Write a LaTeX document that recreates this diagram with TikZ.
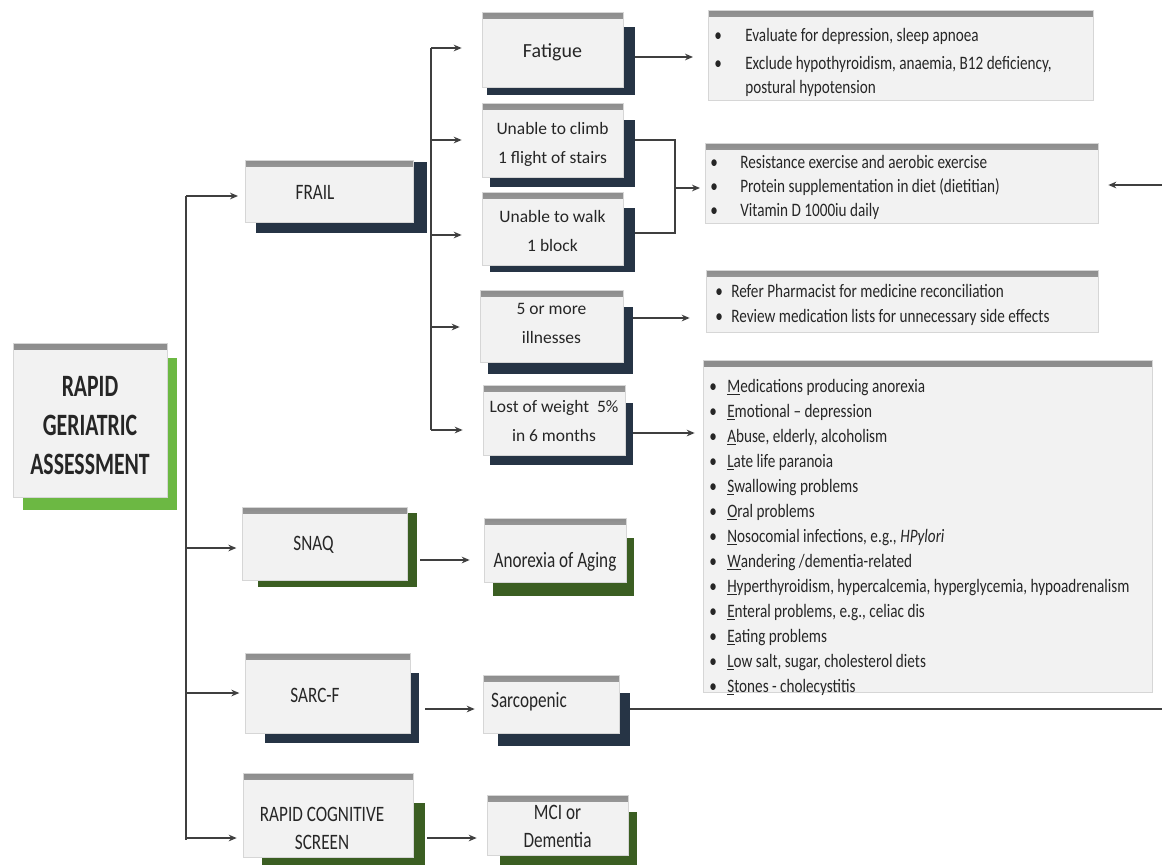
\documentclass[tikz,border=0pt]{standalone}
\usepackage{fontspec}
\setmainfont{Carlito}
\newfontfamily\boxfont{Carlito}[FakeStretch=0.78]
\newfontfamily\listfont{Carlito}[FakeStretch=0.8]
\newfontfamily\titlefont{Carlito}[FakeStretch=0.7]
\usetikzlibrary{arrows.meta,calc,fit,backgrounds}

\definecolor{panel}{HTML}{F2F2F2}
\definecolor{navy}{HTML}{263445}
\definecolor{leaf}{HTML}{3B5E22}
\definecolor{lime}{HTML}{6CB843}
\definecolor{ink}{HTML}{262626}
\definecolor{wire}{HTML}{3F3F3F}

% underlined initial letter of the mnemonic
\newcommand{\fl}[1]{\underline{#1}}

% solid offset block behind a panel: node, colour, dx/dy of north west, dx/dy of south east (px)
\newcommand{\backshadow}[6]{%
  \begin{pgfonlayer}{background}
    \fill[#2] ($(#1.north west)+(#3,#4)$) rectangle ($(#1.south east)+(#5,#6)$);
  \end{pgfonlayer}}

\begin{document}
\begin{tikzpicture}[x=0.75pt,y=-0.75pt,
  panel/.style={draw=black!16, line width=0.5pt, fill=panel, inner sep=0pt,
    path picture={\shade[top color=black!45, bottom color=panel]
      (path picture bounding box.north west) rectangle ([yshift=-5pt]path picture bounding box.north east);}},
  txtA/.style={font=\fontsize{13.1}{21.75}\selectfont, text=ink, align=center},
  txtB/.style={font=\boxfont\fontsize{16.5}{20.5}\selectfont, text=ink, align=center},
  titletext/.style={font=\titlefont\bfseries\fontsize{23.3}{29.25}\selectfont, text=ink, align=center},
  listtext/.style={font=\listfont\fontsize{14.25}{18.75}\selectfont, text=ink, inner sep=0pt, anchor=base west},
  wire/.style={draw=wire, line width=1.1pt},
  arr/.style={wire, -{Stealth[length=6pt,width=5pt]}}
]
\useasboundingbox (0,0) rectangle (1162,864);

% ---------- root ----------
\node[panel, fit={(13,343) (167,497)},
  label={[titletext, yshift=-4.5pt]center:{RAPID\\GERIATRIC\\ASSESSMENT}}] (rga) {};
\backshadow{rga}{lime}{10}{15}{10}{13}

% ---------- screening tools ----------
\node[panel, fit={(245,160) (413,222)},
  label={[txtB, xshift=-10.5pt, yshift=-1pt]center:{FRAIL}}] (frail) {};
\backshadow{frail}{navy}{11}{2}{14}{11}

\node[panel, fit={(242,507) (407,580)},
  label={[txtB, xshift=-8.25pt, yshift=-1pt]center:{SNAQ}}] (snaq) {};
\backshadow{snaq}{leaf}{16}{6}{10}{7}

\node[panel, fit={(245,653) (410,733)},
  label={[txtB, xshift=-9.4pt, yshift=-1.5pt]center:{SARC-F}}] (sarcf) {};
\backshadow{sarcf}{navy}{20}{20}{9}{10}

\node[panel, fit={(243,773) (413,857)},
  label={[txtB, xshift=-4.5pt, yshift=-10pt]center:{RAPID COGNITIVE\\SCREEN}}] (rcs) {};
\backshadow{rcs}{leaf}{19}{30}{12}{10}

% ---------- FRAIL items ----------
\node[panel, fit={(482,12) (623,87)},
  label={[txtA, font=\fontsize{15}{18}\selectfont, yshift=-2pt]center:{Fatigue}}] (fatigue) {};
\backshadow{fatigue}{navy}{5}{15}{12}{8}

\node[panel, fit={(482,103) (623,177)},
  label={[txtA, yshift=-3.4pt]center:{Unable to climb\\1 flight of stairs}}] (climb) {};
\backshadow{climb}{navy}{8}{17}{12}{10}

\node[panel, fit={(482,192) (623,265)},
  label={[txtA, yshift=-2.2pt]center:{Unable to walk\\1 block}}] (walk) {};
\backshadow{walk}{navy}{8}{16}{12}{7}

\node[panel, fit={(480,290) (623,362)},
  label={[txtA, yshift=2pt]center:{5 or more\\illnesses}}] (ill) {};
\backshadow{ill}{navy}{8}{17}{10}{12}

\node[panel, fit={(483,385) (625,455)},
  label={[txtA, yshift=-1pt]center:{Lost of weight~ 5\%\\in 6 months}}] (weight) {};
\backshadow{weight}{navy}{7}{18}{8}{10}

% ---------- outcomes ----------
\node[panel, fit={(484,518) (626,582)},
  label={[txtB, yshift=-9pt]center:{Anorexia of Aging}}] (anorexia) {};
\backshadow{anorexia}{leaf}{9}{20}{8}{14}

\node[panel, fit={(483,675) (619,733)},
  label={[txtB, xshift=-16.5pt, yshift=1.5pt]center:{Sarcopenic}}] (sarco) {};
\backshadow{sarco}{navy}{15}{18}{11}{13}

\node[panel, fit={(487,795) (628,855)},
  label={[txtB, yshift=-1pt]center:{MCI or\\Dementia}}] (mci) {};
\backshadow{mci}{leaf}{13}{17}{9}{12}

% ---------- management lists ----------
\node[panel, fit={(708,10) (1093,100)}] (fatlist) {};
\node[listtext, font=\listfont\fontsize{14.25}{18}\selectfont] (fatlisttxt) at (714,41) {%
  \begin{tabular}[t]{@{}p{23.25pt}@{}l@{}}
  • & Evaluate for depression, sleep apnoea\\[3pt]
  • & Exclude hypothyroidism, anaemia, B12 deficiency,\\
    & postural hypotension
  \end{tabular}};

\node[panel, fit={(705,143) (1098,223)}] (muscle) {};
\node[listtext, font=\listfont\fontsize{14.25}{18}\selectfont] (muscletxt) at (710,168) {%
  \begin{tabular}[t]{@{}p{22.5pt}@{}l@{}}
  • & Resistance exercise and aerobic exercise\\
  • & Protein supplementation in diet (dietitian)\\
  • & Vitamin D 1000iu daily
  \end{tabular}};

\node[panel, fit={(706,270) (1098,332)}] (meds) {};
\node[listtext] (medstxt) at (715,297) {%
  \begin{tabular}[t]{@{}p{12pt}@{}l@{}}
  • & Refer Pharmacist for medicine reconciliation\\
  • & Review medication lists for unnecessary side effects
  \end{tabular}};

\node[panel, fit={(703,360) (1152,692)}] (meals) {};
\node[listtext] (mealstxt) at (709,392) {%
  \begin{tabular}[t]{@{}p{13.5pt}@{}l@{}}
  • & \fl{M}edications producing anorexia\\
  • & \fl{E}motional – depression\\
  • & \fl{A}buse, elderly, alcoholism\\
  • & \fl{L}ate life paranoia\\
  • & \fl{S}wallowing problems\\
  • & \fl{O}ral problems\\
  • & \fl{N}osocomial infections, e.g., \textit{HPylori}\\
  • & \fl{W}andering /dementia-related\\
  • & \fl{H}yperthyroidism, hypercalcemia, hyperglycemia, hypoadrenalism\\
  • & \fl{E}nteral problems, e.g., celiac dis\\
  • & \fl{E}ating problems\\
  • & \fl{L}ow salt, sugar, cholesterol diets\\
  • & \fl{S}tones - cholecystitis
  \end{tabular}};

% ---------- connectors: main trunk ----------
\coordinate (trunkTop) at (186,196);
\coordinate (trunkBot) at (186,840);
\coordinate (tSnaq) at (186,548);
\coordinate (tSarc) at (186,693);
\coordinate (tRcs) at (186,838);
\draw[wire] (trunkTop) -- (trunkBot);
\draw[arr, shorten >=5pt] (trunkTop) -- (trunkTop -| frail.west);
\draw[arr, shorten >=4pt] (tSnaq) -- (tSnaq -| snaq.west);
\draw[arr, shorten >=4pt] (tSarc) -- (tSarc -| sarcf.west);
\draw[arr, shorten >=4.5pt] (tRcs) -- (tRcs -| rcs.west);

% ---------- connectors: FRAIL branch ----------
\coordinate (bFat) at (431,48);
\coordinate (bClimb) at (431,140);
\coordinate (bWalk) at (431,235);
\coordinate (bIll) at (431,327);
\coordinate (bWeight) at (431,430);
\draw[wire] (bFat) -- (bWeight);
\draw[arr, shorten >=15pt] (bFat) -- (bFat -| fatigue.west);
\draw[arr, shorten >=15pt] (bClimb) -- (bClimb -| climb.west);
\draw[arr, shorten >=15pt] (bWalk) -- (bWalk -| walk.west);
\draw[arr, shorten >=15pt] (bIll) -- (bIll -| ill.west);
\draw[arr, shorten >=15pt] (bWeight) -- (bWeight -| weight.west);

% ---------- connectors: items to management ----------
\coordinate (fOut) at (635,57);
\draw[arr, shorten >=11pt] (fOut) -- (fOut -| fatlist.west);

\coordinate (cOut) at (635,140);
\coordinate (wOut) at (635,233);
\coordinate (join) at (675,188);
\draw[wire] (cOut) -| (join) |- (wOut);
\draw[arr, shorten >=3.5pt] (join) -- (join -| muscle.west);

\coordinate (iOut) at (633,318);
\draw[arr, shorten >=12pt] (iOut) -- (iOut -| meds.west);

\coordinate (wtOut) at (633,433);
\draw[arr, shorten >=6pt] (wtOut) -- (wtOut -| meals.west);

\coordinate (sOut) at (420,560);
\draw[arr, shorten >=10.5pt] (sOut) -- (sOut -| anorexia.west);

\coordinate (scOut) at (425,709);
\draw[arr, shorten >=6pt] (scOut) -- (scOut -| sarco.west);

\coordinate (rOut) at (427,838);
\draw[arr, shorten >=7.5pt] (rOut) -- (rOut -| mci.west);

% sarcopenia loops back to the exercise / protein plan
\coordinate (spOut) at (630,709);
\coordinate (rightEdge) at (1162,709);
\draw[wire] (spOut) -- (rightEdge);
\coordinate (backIn) at (1162,185);
\draw[arr, shorten >=7.5pt] (backIn) -- (backIn -| muscle.east);
\end{tikzpicture}
\end{document}
